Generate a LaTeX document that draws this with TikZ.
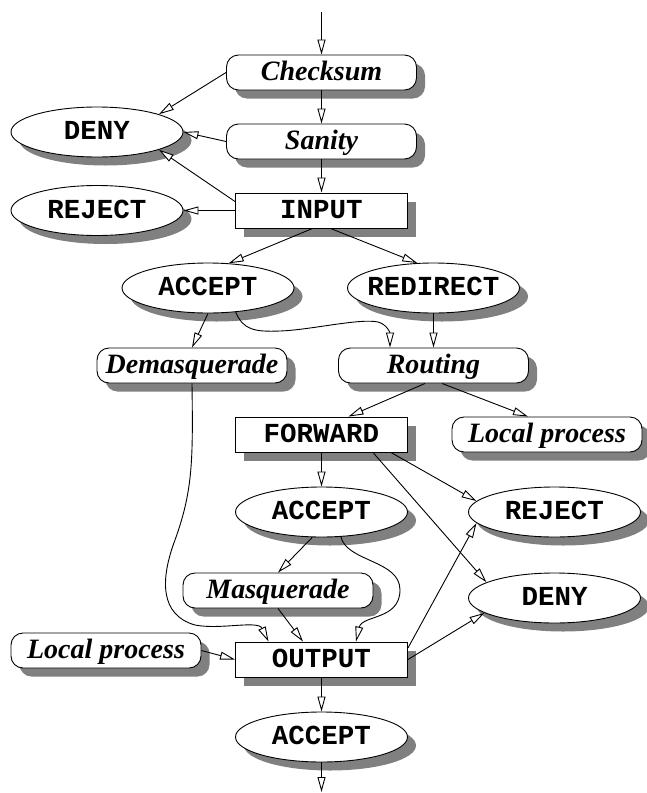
\documentclass[tikz,border=0pt]{standalone}
\usepackage{fontspec}
\setmainfont{Liberation Serif}
\newfontfamily\codefont{Liberation Mono}
\usetikzlibrary{shapes.geometric,shadows,arrows.meta,calc}
\newcommand{\ctext}[1]{\makebox[0pt]{#1}}
\begin{document}
\begin{tikzpicture}[x=1pt,y=-1pt,line width=0.9pt,
  shad/.style={drop shadow={shadow xshift=8.5pt,shadow yshift=-8.5pt,fill=black!50,opacity=1}},
  proc/.style={rectangle,rounded corners=12pt,draw,fill=white,shad,
    minimum width=190pt,minimum height=35pt,inner sep=0pt,
    text height=18.5pt,text depth=3pt,
    font=\fontsize{28}{31}\selectfont\bfseries\itshape},
  chainbox/.style={rectangle,draw,fill=white,shad,
    minimum width=172pt,minimum height=35pt,inner sep=0pt,
    text height=18pt,text depth=3pt,
    font=\codefont\fontsize{27.5}{30}\selectfont\bfseries},
  verdict/.style={ellipse,draw,fill=white,shad,
    minimum width=172pt,minimum height=50pt,inner sep=0pt,
    text height=18pt,text depth=3pt,
    font=\codefont\fontsize{27.5}{30}\selectfont\bfseries},
  arr/.style={-{Triangle[length=15pt,width=8pt,fill=white]}}]
\useasboundingbox (0,0) rectangle (646,793);

\coordinate (topin) at (321.5,12);
\coordinate (botout) at (321.5,792);

\node[proc] (checksum) at (321.5,72.5) {Checksum};
\node[proc] (sanity) at (321.5,141.5) {Sanity};
\node[verdict] (deny1) at (97,132) {\ctext{DENY}};
\node[verdict] (reject1) at (97,210.5) {\ctext{REJECT}};
\node[chainbox] (input) at (321.5,210.5) {INPUT};
\node[verdict] (acc1) at (208,288) {\ctext{ACCEPT}};
\node[verdict] (redirect) at (433.5,288) {\ctext{REDIRECT}};
\node[proc] (demasq) at (192,365.5) {Demasquerade};
\node[proc] (routing) at (433.5,365.5) {Routing};
\node[chainbox] (forward) at (321.5,434.5) {FORWARD};
\node[proc] (localR) at (547,434.5) {Local process};
\node[verdict] (acc2) at (321.5,512) {\ctext{ACCEPT}};
\node[verdict] (reject2) at (554.5,512) {\ctext{REJECT}};
\node[proc] (masq) at (278,590.5) {Masquerade};
\node[verdict] (deny2) at (554.5,598) {\ctext{DENY}};
\node[proc] (localL) at (106,650.5) {Local process};
\node[chainbox] (output) at (321.5,659.5) {OUTPUT};
\node[verdict] (acc3) at (321.5,737) {\ctext{ACCEPT}};

\draw[arr] (topin) -- (checksum);
\draw[arr] (checksum) -- (sanity);
\draw[arr] (sanity) -- (input);
\draw[arr] (checksum.west) -- (deny1.16);
\draw[arr] (sanity.west) -- (deny1.east);
\draw[arr] ($(input.north west)!0.25!(input.south west)$) -- (deny1.-16);
\draw[arr] (input.west) -- (reject1.east);
\draw[arr] ($(input.south)+(-9,0)$) -- (acc1.50);
\draw[arr] ($(input.south)+(9,0)$) -- (redirect.123);
\draw[arr] (acc1.south) -- (demasq.north);
\draw[arr] (acc1.-41) .. controls (243,330) and (255,332) .. (280,331)
  .. controls (310,330) and (360,318) .. (378,322)
  .. controls (386,324) and (390,332) .. ($(routing.north)+(-43.5,0)$);
\draw[arr] (redirect.south) -- (routing.north);
\draw[arr] ($(routing.south)+(-8.5,0)$) -- ($(forward.north)+(27,0)$);
\draw[arr] ($(routing.south)+(8.5,0)$) -- ($(localR.north)+(-19,0)$);
\draw[arr] (forward) -- (acc2);
\draw[arr] ($(forward.south east)+(-17,0)$) -- (reject2.172);
\draw[arr] ($(forward.south east)+(-35,0)$) -- (deny2.167);
\draw[arr] ($(output.north east)!0.18!(output.south east)$) -- (reject2.188);
\draw[arr] (output.east) -- (deny2.192);
\draw[arr] (acc2.250) -- (masq.north);
\draw[arr] (acc2.-52) .. controls (347,562) and (400,560) .. (400,590)
  .. controls (400,620) and (362,615) .. ($(output.north)+(34.5,0)$);
\draw[arr] (masq.south) -- ($(output.north)+(-18.5,0)$);
\draw[arr] (demasq.south) .. controls (193,460) and (193,490) .. (175,540)
  .. controls (160,580) and (160,615) .. (195,625)
  .. controls (220,630) and (258,620) .. ($(output.north)+(-53,0)$);
\draw[arr] (localL.east) -- (output.west);
\draw[arr] (output) -- (acc3);
\draw[arr] (acc3) -- (botout);
\end{tikzpicture}
\end{document}
